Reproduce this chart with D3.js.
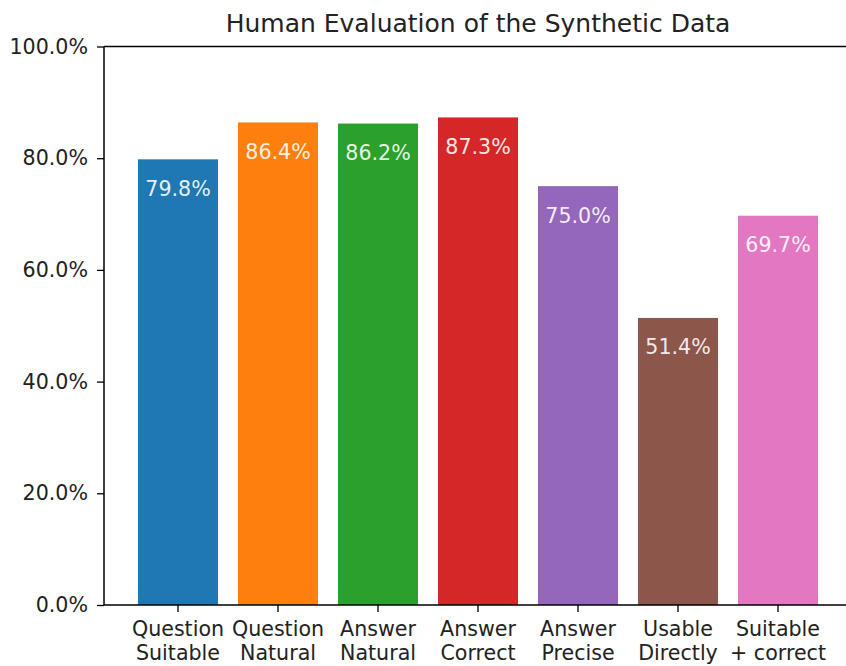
<!DOCTYPE html>
<html>
<head>
<meta charset="utf-8">
<script src="https://cdn.jsdelivr.net/npm/d3@7"></script>
<style>
  body { margin: 0; background: #fff; }
  text { font-family: "DejaVu Sans", sans-serif; }
</style>
</head>
<body>
<svg id="chart" width="846" height="666"></svg>
<script>
const categories = [
  ["Question", "Suitable"],
  ["Question", "Natural"],
  ["Answer", "Natural"],
  ["Answer", "Correct"],
  ["Answer", "Precise"],
  ["Usable", "Directly"],
  ["Suitable", "+ correct"]
];
const values = [79.8, 86.4, 86.2, 87.3, 75.0, 51.4, 69.7];
const colors = ["#1f77b4", "#ff7f0e", "#2ca02c", "#d62728", "#9467bd", "#8c564b", "#e377c2"];
const yTicks = [0, 20, 40, 60, 80, 100];
const title = "Human Evaluation of the Synthetic Data";

const svg = d3.select("#chart");
const mLeft = 104, mRight = 852, mTop = 46.5, mBottom = 605;
const fs = 20.6;

const x = d3.scaleBand()
  .domain(d3.range(categories.length))
  .range([mLeft, mRight])
  .paddingInner(0.2)
  .paddingOuter(0.34);
const y = d3.scaleLinear().domain([0, 100]).range([mBottom, mTop]);

// bars
svg.append("g").selectAll("rect")
  .data(values)
  .join("rect")
  .attr("x", (d, i) => x(i))
  .attr("y", d => y(d))
  .attr("width", x.bandwidth())
  .attr("height", d => y(0) - y(d))
  .attr("fill", (d, i) => colors[i]);

// value labels inside bars
svg.append("g").selectAll("text")
  .data(values)
  .join("text")
  .attr("x", (d, i) => x(i) + x.bandwidth() / 2)
  .attr("y", d => y(d) + 36.5)
  .attr("text-anchor", "middle")
  .attr("font-size", fs)
  .attr("fill", "#fff")
  .attr("fill-opacity", 0.9)
  .text(d => d.toFixed(1) + "%");

// y axis
const yAxis = svg.append("g")
  .attr("transform", `translate(${mLeft},0)`)
  .call(d3.axisLeft(y).tickValues(yTicks).tickSize(7).tickPadding(9)
    .tickFormat(d => d.toFixed(1) + "%"));
yAxis.select(".domain").remove();
yAxis.selectAll("line").attr("stroke", "#000").attr("stroke-width", 1.3);
yAxis.selectAll("text").attr("font-size", fs).attr("fill", "#222")
  .attr("font-family", "DejaVu Sans, sans-serif");

// x axis
const xAxis = svg.append("g")
  .attr("transform", `translate(0,${mBottom})`)
  .call(d3.axisBottom(x).tickSize(7).tickFormat(""));
xAxis.select(".domain").remove();
xAxis.selectAll("line").attr("stroke", "#000").attr("stroke-width", 1.3);
xAxis.selectAll(".tick").each(function (d) {
  const t = d3.select(this).append("text")
    .attr("text-anchor", "middle")
    .attr("font-size", fs)
    .attr("fill", "#222")
    .attr("font-family", "DejaVu Sans, sans-serif");
  categories[d].forEach((line, k) => {
    t.append("tspan").attr("x", 0).attr("y", 31 + k * 24).text(line);
  });
});

// spines
const spine = svg.append("g").attr("stroke", "#000").attr("stroke-width", 1.5).attr("fill", "none");
spine.append("line").attr("x1", mLeft).attr("x2", mLeft).attr("y1", mTop).attr("y2", mBottom);
spine.append("line").attr("x1", mLeft).attr("x2", mRight).attr("y1", mTop).attr("y2", mTop);
spine.append("line").attr("x1", mLeft).attr("x2", mRight).attr("y1", mBottom).attr("y2", mBottom);
spine.append("line").attr("x1", mRight).attr("x2", mRight).attr("y1", mTop).attr("y2", mBottom);

// title
svg.append("text")
  .attr("x", (mLeft + mRight) / 2)
  .attr("y", 32)
  .attr("text-anchor", "middle")
  .attr("font-size", 25)
  .attr("fill", "#222")
  .text(title);
</script>
</body>
</html>
